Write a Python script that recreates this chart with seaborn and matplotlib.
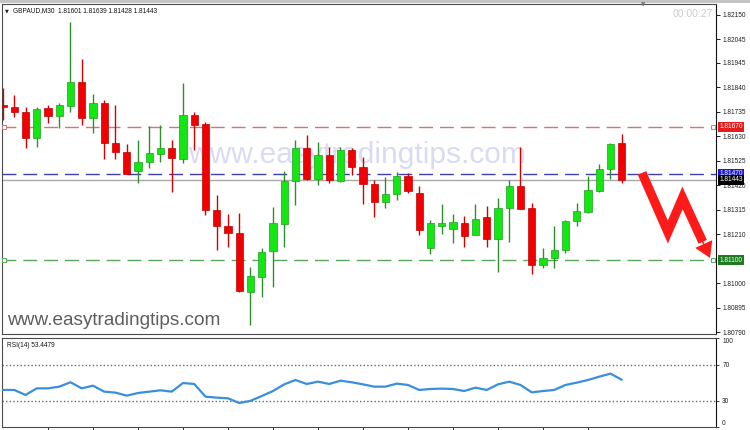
import matplotlib
matplotlib.use("Agg")
import matplotlib.pyplot as plt
import matplotlib.transforms as mtransforms
from matplotlib.patches import FancyArrowPatch, Rectangle
import seaborn as sns
import numpy as np
import pandas as pd

# ---------------- data ----------------
symbol = "GBPAUD,M30"
timer_text = "00:00:27"
watermark = "www.easytradingtips.com"
rsi_label = "RSI(14) 53.4479"

opens = [1.81764, 1.81757, 1.81736, 1.81621, 1.81750, 1.81719, 1.81761, 1.81864, 1.81707, 1.81774,
         1.81603, 1.81563, 1.81483, 1.81519, 1.81554, 1.81581, 1.81533, 1.81721, 1.81683, 1.81314,
         1.81246, 1.81214, 1.80961, 1.81029, 1.81140, 1.81254, 1.81440, 1.81581, 1.81447, 1.81549,
         1.81440, 1.81571, 1.81500, 1.81424, 1.81350, 1.81381, 1.81461, 1.81389, 1.81150, 1.81247,
         1.81233, 1.81257, 1.81207, 1.81286, 1.81189, 1.81321, 1.81417, 1.81321, 1.81079, 1.81107,
         1.81143, 1.81269, 1.81307, 1.81397, 1.81489, 1.81601]
highs = [1.81836, 1.81807, 1.81754, 1.81754, 1.81764, 1.81771, 1.82119, 1.81961, 1.81810, 1.81786,
         1.81764, 1.81596, 1.81614, 1.81674, 1.81679, 1.81614, 1.81857, 1.81736, 1.81693, 1.81379,
         1.81296, 1.81300, 1.81071, 1.81153, 1.81326, 1.81483, 1.81614, 1.81636, 1.81604, 1.81586,
         1.81586, 1.81579, 1.81543, 1.81443, 1.81457, 1.81479, 1.81471, 1.81417, 1.81271, 1.81339,
         1.81296, 1.81289, 1.81340, 1.81331, 1.81367, 1.81443, 1.81586, 1.81343, 1.81153, 1.81246,
         1.81271, 1.81346, 1.81460, 1.81510, 1.81600, 1.81639]
lows = [1.81700, 1.81711, 1.81579, 1.81586, 1.81686, 1.81664, 1.81736, 1.81679, 1.81646, 1.81531,
        1.81531, 1.81469, 1.81429, 1.81496, 1.81519, 1.81393, 1.81514, 1.81571, 1.81293, 1.81143,
        1.81154, 1.80964, 1.80821, 1.80943, 1.80986, 1.81157, 1.81336, 1.81443, 1.81421, 1.81429,
        1.81433, 1.81464, 1.81340, 1.81286, 1.81321, 1.81357, 1.81386, 1.81207, 1.81126, 1.81211,
        1.81174, 1.81157, 1.81207, 1.81154, 1.81050, 1.81179, 1.81319, 1.81039, 1.81067, 1.81064,
        1.81129, 1.81246, 1.81300, 1.81393, 1.81447, 1.81428]
closes = [1.81754, 1.81736, 1.81621, 1.81746, 1.81719, 1.81764, 1.81864, 1.81707, 1.81774, 1.81603,
          1.81564, 1.81469, 1.81519, 1.81560, 1.81579, 1.81536, 1.81721, 1.81679, 1.81314, 1.81246,
          1.81214, 1.80967, 1.81033, 1.81136, 1.81257, 1.81440, 1.81581, 1.81447, 1.81549, 1.81443,
          1.81571, 1.81500, 1.81424, 1.81350, 1.81381, 1.81460, 1.81396, 1.81229, 1.81257, 1.81257,
          1.81261, 1.81204, 1.81276, 1.81189, 1.81321, 1.81417, 1.81319, 1.81079, 1.81107, 1.81143,
          1.81267, 1.81310, 1.81400, 1.81489, 1.81597, 1.81443]
rsi_values = [42.0, 42.0, 36.4, 43.8, 43.8, 45.7, 50.6, 43.8, 46.8, 40.1,
              39.0, 35.6, 38.6, 40.1, 41.6, 40.1, 49.8, 48.7, 34.5, 33.4,
              32.6, 27.4, 29.8, 35.2, 40.8, 48.3, 53.2, 48.7, 51.3, 48.7,
              52.4, 50.6, 48.3, 45.7, 45.7, 49.1, 47.6, 42.0, 43.1, 43.5,
              43.1, 40.8, 44.6, 42.0, 48.3, 51.3, 47.6, 39.3, 40.8, 42.0,
              47.6, 50.2, 53.2, 56.9, 60.3, 53.45]

price_ticks = [1.82150, 1.82045, 1.81945, 1.81840, 1.81735, 1.81630, 1.81525,
               1.81420, 1.81315, 1.81210, 1.81000, 1.80895, 1.80790]
rsi_ticks = [0, 30, 70, 100]
rsi_levels = [30, 70]
level_resistance = 1.81670
level_pivot = 1.81470
level_support = 1.81100
last_price = 1.81443

# ---------------- styling ----------------
sns.set_theme(style="white")
plt.rcParams["font.family"] = ["Liberation Sans", "DejaVu Sans"]

df = pd.DataFrame({"open": opens, "high": highs, "low": lows, "close": closes})
df["idx"] = np.arange(len(df))
df["up"] = df["close"] >= df["open"]
df["bottom"] = df[["open", "close"]].min(axis=1)
df["height"] = (df["close"] - df["open"]).abs().clip(lower=0.00004)
rsi_df = pd.DataFrame({"idx": np.arange(len(rsi_values)), "rsi": rsi_values})

W, H = 750, 430
fig = plt.figure(figsize=(W / 100, H / 100), dpi=100)
fig.patch.set_facecolor("white")
fig.patches.append(Rectangle((0, 1 - 3 / H), 1, 3 / H, transform=fig.transFigure,
                             fc="#c4c4c4", ec="none"))

ax = fig.add_axes([2 / W, 1 - 334 / H, 714 / W, 330 / H])
ax2 = fig.add_axes([2 / W, 1 - 427.4 / H, 714 / W, (427.4 - 338.25) / H])

xlim = (-0.089, 63.38)
small = 4.7
spine_col = "#4a4a4a"

# ---- candles ----
green_body, green_wick = "#14e614", "#2c8f2c"
red_body, red_wick = "#f00000", "#d40000"
up = df[df["up"]]
dn = df[~df["up"]]
ax.vlines(up["idx"], up["low"], up["high"], color=green_wick, lw=1.0, zorder=3)
ax.vlines(dn["idx"], dn["low"], dn["high"], color=red_wick, lw=1.0, zorder=3)
ax.bar(up["idx"], up["height"], bottom=up["bottom"], width=0.64, color=green_body,
       edgecolor="#1fa01f", linewidth=0.5, zorder=4)
ax.bar(dn["idx"], dn["height"], bottom=dn["bottom"], width=0.64, color=red_body,
       edgecolor="#c00000", linewidth=0.5, zorder=4)

# ---- levels ----
ax.axhline(level_resistance, color="#e07070", lw=1.0, ls=(0, (10, 5)), zorder=2)
ax.axhline(level_pivot, color="#4040a8", lw=1.0, ls=(0, (10, 5)), zorder=2)
ax.axhline(level_support, color="#5aa65a", lw=1.0, ls=(0, (10, 5)), zorder=2)
ax.axhline(last_price, color="#a8a8a8", lw=1.0, zorder=2)
for lvl, col in [(level_resistance, "#e07070"), (level_support, "#5aa65a")]:
    ax.plot([0.12, 63.1], [lvl, lvl], ls="none", marker="s", ms=2.6, mfc="white",
            mec=col, mew=0.7, zorder=5, clip_on=False)

ax.set_xlim(*xlim)
ax.set_ylim(1.80783, 1.82197)
ax.set_xticks([])
ax.yaxis.tick_right()
ax.set_yticks(price_ticks)
ax.set_yticklabels([f"{t:.5f}" for t in price_ticks])
ax.tick_params(axis="y", which="both", right=True, length=3, width=0.7, pad=1.5,
               labelsize=small, colors="#222222")
for s in ax.spines.values():
    s.set_color(spine_col)
    s.set_linewidth(0.8)
ax.spines["right"].set_color("#111111")

# right-side price boxes
trans = mtransforms.blended_transform_factory(ax.transAxes, ax.transData)
for val, fc in [(level_resistance, "#e61c1c"), (level_pivot, "#1a1ad0"),
                (last_price, "#000000"), (level_support, "#1f7a1f")]:
    ax.text(1 + 3.2 / 714, val, f"{val:.5f}", transform=trans, ha="left", va="center",
            fontsize=small, color="white", zorder=10, clip_on=False,
            bbox=dict(boxstyle="square,pad=0.22", fc=fc, ec="none"))

# watermarks and texts
ax.text(0.497, 0.542, watermark, transform=ax.transAxes, ha="center", va="center",
        fontsize=21.5, color="#dadaf2", zorder=1)
ax.text(5 / 714, 0.040, watermark, transform=ax.transAxes, ha="left", va="center",
        fontsize=13.7, color="#5e5e5e", zorder=6)
fig.text(5 / W, 1 - 11 / H, "\u25BC", fontsize=3.6, color="#222222", va="center",
         family=["DejaVu Sans"])
fig.text(13 / W, 1 - 11 / H,
         f"{symbol}  {opens[-1]:.5f} {highs[-1]:.5f} {lows[-1]:.5f} {closes[-1]:.5f}",
         fontsize=small, color="#111111", va="center")
fig.text(713 / W, 1 - 14 / H, timer_text, fontsize=7.6, color="#cdcdcd", ha="right",
         va="center")
fig.text(643 / W, 1 - 5 / H, "\u25BC", fontsize=4, color="#777777", ha="center",
         va="center", family=["DejaVu Sans"])

# red zig-zag arrow (annotation)
ax.plot([56.8, 59.1, 60.4, 62.2], [1.81473, 1.81220, 1.81366, 1.81178], color="#ff1a1a",
        lw=6.6, solid_joinstyle="miter", solid_capstyle="butt", zorder=7)
ax.add_patch(FancyArrowPatch((61.75, 1.81226), (62.95, 1.81098),
                             arrowstyle="simple,head_width=1.35,head_length=1.1,tail_width=0.1",
                             mutation_scale=10, fc="#ff1a1a", ec="none", zorder=7,
                             clip_on=False))

# ---- RSI panel ----
for lv in rsi_levels:
    ax2.axhline(lv, color="#6a6a6a", lw=1.0, ls=(0, (1, 1.6)), zorder=1)
sns.lineplot(data=rsi_df, x="idx", y="rsi", ax=ax2, color="#3a8fdc", lw=1.6, zorder=3)
ax2.set_xlim(*xlim)
ax2.set_ylim(0, 100)
ax2.set_xlabel("")
ax2.set_ylabel("")
ax2.yaxis.tick_right()
ax2.set_yticks(rsi_ticks)
ax2.set_yticklabels([str(t) for t in rsi_ticks])
ax2.tick_params(axis="y", right=True, length=2, width=0.6, pad=2.5, labelsize=small,
                colors="#222222")
rlabels = ax2.get_yticklabels()
rlabels[0].set_verticalalignment("bottom")
rlabels[-1].set_verticalalignment("top")
ax2.set_xticks(np.arange(4, 53, 4))
ax2.set_xticklabels([])
ax2.tick_params(axis="x", bottom=True, length=3, width=0.7, direction="out",
                colors="#333333")
for s in ax2.spines.values():
    s.set_color(spine_col)
    s.set_linewidth(0.8)
ax2.spines["right"].set_color("#111111")
ax2.text(5 / 714, 0.955, rsi_label, transform=ax2.transAxes, ha="left", va="top",
         fontsize=small, color="#111111")

fig.savefig("out.png", dpi=100)
